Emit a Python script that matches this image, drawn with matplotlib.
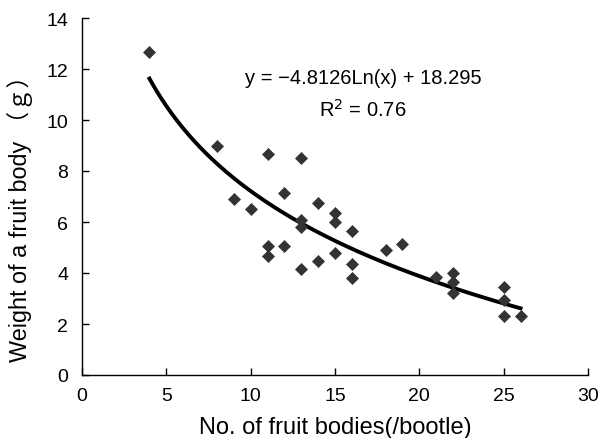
import numpy as np
import matplotlib
matplotlib.use("Agg")
import matplotlib.pyplot as plt

# Data
x_vals = [4, 8, 9, 10, 11, 11, 11, 12, 12, 13, 13, 13, 13, 14, 14, 15, 15, 15,
          16, 16, 16, 18, 19, 21, 22, 22, 22, 25, 25, 25, 26]
y_vals = [12.65, 9.0, 6.9, 6.5, 8.67, 5.07, 4.68, 7.14, 5.07, 8.5, 6.09, 5.79, 4.16,
          6.73, 4.46, 6.35, 5.99, 4.78, 5.66, 4.35, 3.8, 4.9, 5.14, 3.83, 4.0,
          3.66, 3.22, 3.44, 2.95, 2.3, 2.33]
fit_a = -4.8126
fit_b = 18.295
r2 = 0.76
x_ticks = [0, 5, 10, 15, 20, 25, 30]
y_ticks = [0, 2, 4, 6, 8, 10, 12, 14]

fam = ['Liberation Sans', 'Noto Sans CJK JP']
plt.rcParams['font.family'] = fam

fig = plt.figure(figsize=(5.98, 4.39), dpi=100)
ax = fig.add_axes([82/598, 63/439, (588-82)/598, (376-19)/439])

ax.plot(x_vals, y_vals, linestyle='none', marker='D', ms=6.4,
        color='#333333', mec='#333333', mew=0.5, zorder=3)

xs = np.linspace(min(x_vals), max(x_vals), 200)
ax.plot(xs, fit_a * np.log(xs) + fit_b, color='black', lw=2.8, zorder=2)

ax.set_xlim(0, 30)
ax.set_ylim(0, 14)
ax.set_xticks(x_ticks)
ax.set_yticks(y_ticks)
ax.tick_params(direction='in', length=5, width=1, labelsize=14, colors='black')
ax.tick_params(axis='x', pad=9)
ax.tick_params(axis='y', pad=10)
for s in ['top', 'right']:
    ax.spines[s].set_visible(False)
for s in ['left', 'bottom']:
    ax.spines[s].set_linewidth(1)

ax.set_xlabel('No. of fruit bodies(/bootle)', fontsize=17)
ax.set_ylabel('Weight of a fruit body （ｇ）', fontsize=16.8)
ax.xaxis.set_label_coords(0.5, -(428 - 376) / (376 - 19), transform=ax.transAxes)
ax.yaxis.set_label_coords(-(82 - 20) / (588 - 82), 0.5 - 16 / (376 - 19), transform=ax.transAxes)
ax.xaxis.label.set_va('center')
ax.yaxis.label.set_va('center')

ax.text(363/598, 1 - 78/439, 'y = \u22124.8126Ln(x) + 18.295', transform=fig.transFigure,
        ha='center', va='center', fontsize=14.5)
ax.text(363/598, 1 - 110/439, 'R$^2$ = 0.76', transform=fig.transFigure,
        ha='center', va='center', fontsize=14.5)

fig.savefig('out.png', dpi=100)
